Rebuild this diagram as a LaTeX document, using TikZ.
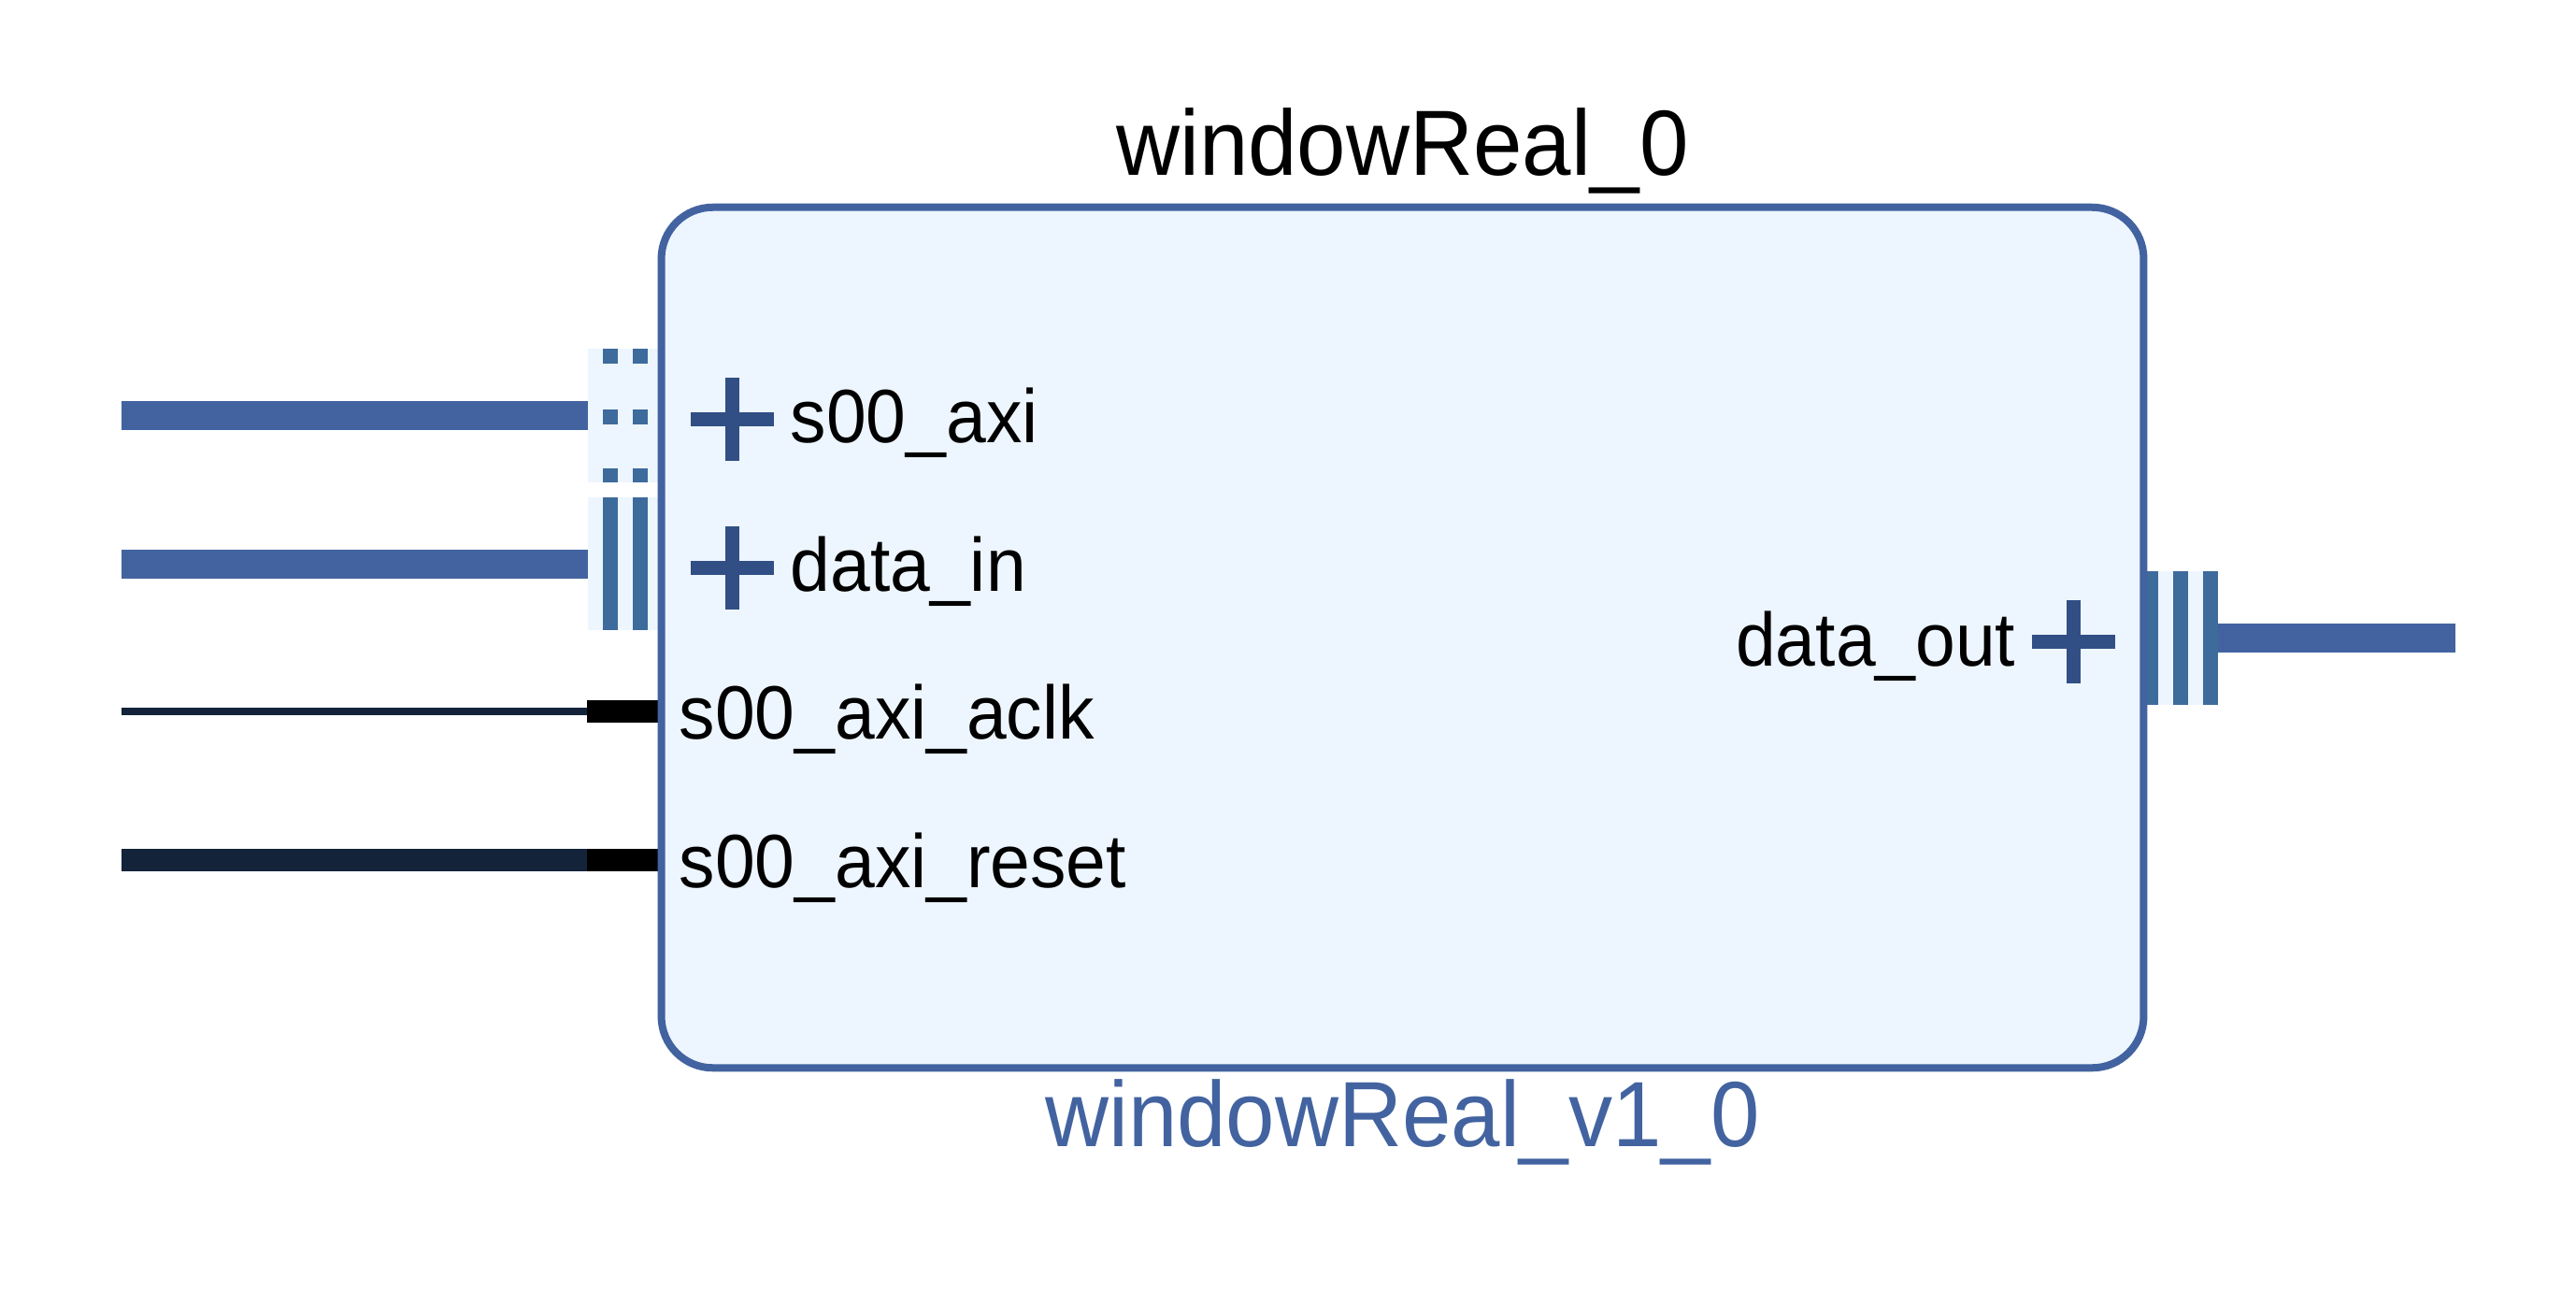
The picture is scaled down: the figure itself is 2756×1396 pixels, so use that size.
\documentclass[tikz,border=0pt]{standalone}
\usepackage{fontspec}
\setmainfont{Liberation Sans}[FakeStretch=0.95]
\usetikzlibrary{positioning}
\definecolor{busblue}{RGB}{66,99,160}
\definecolor{barblue}{RGB}{61,107,156}
\definecolor{plusblue}{RGB}{49,79,133}
\definecolor{ipfill}{RGB}{237,245,254}
\definecolor{wirenavy}{RGB}{18,35,58}
\tikzset{
  ipbox/.style={draw=busblue, fill=ipfill, line width=0.08cm, rounded corners=0.55cm,
    minimum width=15.85cm, minimum height=9.2cm, inner sep=0pt},
  portbox/.style={fill=ipfill, minimum width=0.75cm, minimum height=1.42cm,
    inner sep=0pt, outer sep=0pt},
  portbar/.style={barblue, line width=0.16cm},
  wirestub/.style={fill=black, minimum width=0.76cm, minimum height=0.24cm,
    inner sep=0pt, outer sep=0pt},
  busnet/.style={busblue, line width=0.31cm},
  pinlabel/.style={inner sep=0pt, font=\fontsize{23pt}{27pt}\selectfont},
  titlelabel/.style={inner sep=0pt, font=\fontsize{28.2pt}{33pt}\selectfont},
  busplus/.pic={\draw[plusblue, line width=0.15cm] (-44.5,0) -- (44.5,0) (0,-44.5) -- (0,44.5);}
}
\begin{document}
\begin{tikzpicture}[x=0.01cm, y=-0.01cm]
    \useasboundingbox (0,0) rectangle (2756,1396);

    \node[portbox] (p_axi) at (666.5,444.5) {};
    \node[portbox] (p_in) at (666.5,603) {};
    \node[portbox, minimum width=0.8cm] (p_out) at (2333,682.5) {};
    \node[wirestub] (p_clk) at (666,761) {};
    \node[wirestub] (p_rst) at (666,920) {};

    \foreach \dx in {0.24cm,0.555cm} {
        \draw[portbar, dash pattern=on 0.16cm off 0.48cm on 0.16cm off 0.47cm]
            ([xshift=\dx]p_axi.north west) -- ([xshift=\dx]p_axi.south west);
        \draw[portbar] ([xshift=\dx]p_in.north west) -- ([xshift=\dx]p_in.south west);
    }
    \foreach \dx in {0.08cm,0.4cm,0.72cm}
        \draw[portbar] ([xshift=\dx]p_out.north west) -- ([xshift=\dx]p_out.south west);

    \coordinate (n_axi) at (130,444.5);
    \coordinate (n_in) at (130,603);
    \coordinate (n_clk) at (130,761);
    \coordinate (n_rst) at (130,920);
    \coordinate (n_out) at (2627,682.5);
    \draw[busnet] (n_axi) -- (p_axi.west);
    \draw[busnet] (n_in) -- (p_in.west);
    \draw[wirenavy, line width=0.08cm] (n_clk) -- (p_clk.west);
    \draw[wirenavy, line width=0.24cm] (n_rst) -- (p_rst.west);
    \draw[busnet] (p_out.east) -- (n_out);

    \node[ipbox] (ip) at (1500.5,682) {};
    \node[titlelabel, anchor=base] (ip_name) at (1500.5,187) {windowReal\_0};
    \node[titlelabel, anchor=base, text=busblue] (ip_type) at (1500.5,1226) {windowReal\_v1\_0};

    \pic (x_axi) at (783,448) {busplus};
    \pic (x_in) at (783,607) {busplus};
    \pic (x_out) at (2218,686) {busplus};

    \node[pinlabel, anchor=base west] (l_axi) at (845,473) {s00\_axi};
    \node[pinlabel, anchor=base west] (l_in) at (845,632) {data\_in};
    \node[pinlabel, anchor=base west] (l_clk) at (726,790) {s00\_axi\_aclk};
    \node[pinlabel, anchor=base west] (l_rst) at (726,949) {s00\_axi\_reset};
    \node[pinlabel, anchor=base east] (l_out) at (2157,712) {data\_out};
\end{tikzpicture}
\end{document}
